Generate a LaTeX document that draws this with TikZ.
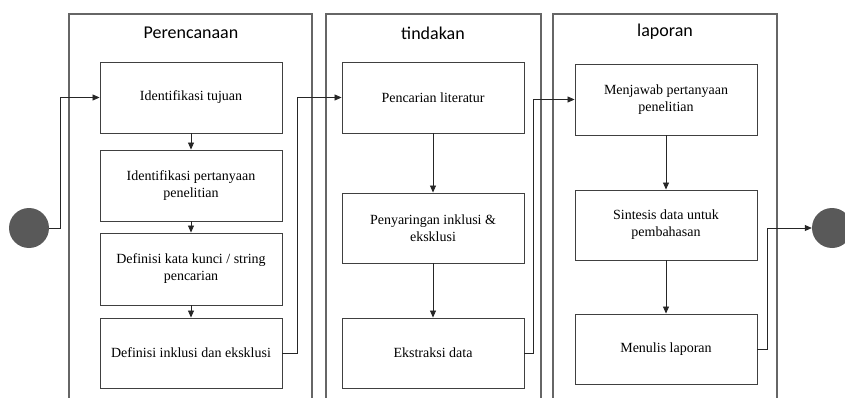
\documentclass[tikz,border=0pt]{standalone}
\usepackage{fontspec}
\setmainfont{Liberation Serif}
\newfontfamily\titlefont{Carlito}
\usetikzlibrary{arrows.meta}
\begin{document}
\begin{tikzpicture}[x=1pt,y=-1pt,
  lane/.style={draw=black!60,line width=1.2pt},
  stepbox/.style={draw=black!75,line width=0.9pt,fill=white,minimum width=182pt,align=center,font=\fontsize{14}{17}\selectfont,inner sep=2pt},
  lanetitle/.style={font=\titlefont\fontsize{18}{21}\selectfont},
  flow/.style={draw=black!85,line width=0.8pt,-{Triangle[length=7pt,width=6pt]}},
  terminal/.style={circle,fill=black!65,minimum size=40pt,inner sep=0pt}]
\useasboundingbox (0,0) rectangle (845,398);
% lanes
\draw[lane] (69,400) -- (69,14) -- (312,14) -- (312,400);
\draw[lane] (326,400) -- (326,14) -- (541,14) -- (541,400);
\draw[lane] (553,400) -- (553,14) -- (777,14) -- (777,400);
\node[lanetitle] (t1) at (191,33) {Perencanaan};
\node[lanetitle] (t2) at (433,33) {tindakan};
\node[lanetitle] (t3) at (665,32) {laporan};
% lane 1
\node[stepbox,minimum height=71pt] (a1) at (191,97.5) {Identifikasi tujuan};
\node[stepbox,minimum height=71pt] (a2) at (191,185.5) {Identifikasi pertanyaan\\penelitian};
\node[stepbox,minimum height=72pt] (a3) at (191,269) {Definisi kata kunci / string\\pencarian};
\node[stepbox,minimum height=70pt] (a4) at (191,353) {Definisi inklusi dan eksklusi};
% lane 2
\node[stepbox,minimum height=71pt] (b1) at (433,97.5) {Pencarian literatur};
\node[stepbox,minimum height=70pt] (b2) at (433,228) {Penyaringan inklusi \&\\eksklusi};
\node[stepbox,minimum height=70pt] (b3) at (433,353) {Ekstraksi data};
% lane 3
\node[stepbox,minimum height=71pt] (c1) at (666,99.5) {Menjawab pertanyaan\\penelitian};
\node[stepbox,minimum height=70pt] (c2) at (666,225) {Sintesis data untuk\\pembahasan};
\node[stepbox,minimum height=70pt] (c3) at (666,349) {Menulis laporan};
% terminals
\node[terminal] (start) at (29,228) {};
\node[terminal] (end) at (832,228) {};
% vertical flows
\draw[flow] (a1) -- (a2);
\draw[flow] (a2) -- (a3);
\draw[flow] (a3) -- (a4);
\draw[flow] (b1) -- (b2);
\draw[flow] (b2) -- (b3);
\draw[flow] (c1) -- (c2);
\draw[flow] (c2) -- (c3);
% cross-lane flows
\draw[flow] (start.east) -| (60,97.5) -- (a1.west);
\draw[flow] (a4.east) -| (297,97.5) -- (b1.west);
\draw[flow] (b3.east) -| (533,99.5) -- (c1.west);
\draw[flow] (c3.east) -| (767,228) -- (end.west);
\end{tikzpicture}
\end{document}
